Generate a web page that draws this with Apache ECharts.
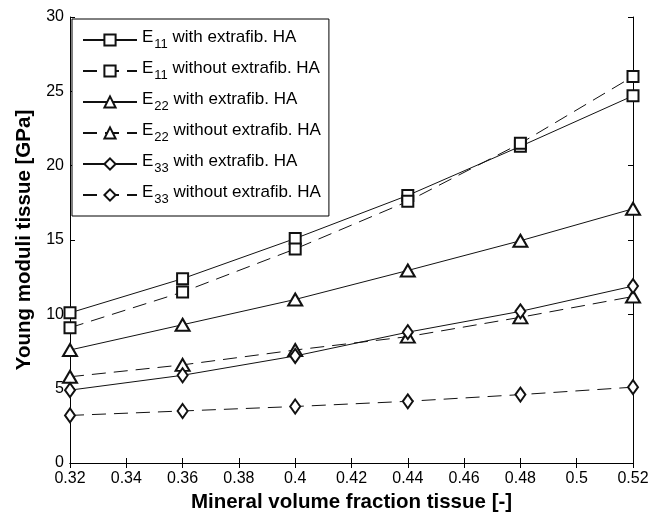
<!DOCTYPE html>
<html>
<head>
<meta charset="utf-8">
<script src="https://cdn.jsdelivr.net/npm/echarts@6/dist/echarts.min.js"></script>
<style>
  html, body { margin: 0; padding: 0; background: #fff; }
  #chart { width: 664px; height: 518px; }
</style>
</head>
<body>
<div id="chart"></div>
<script>
// mineral volume fraction (x)
var fractions = [0.32, 0.36, 0.40, 0.44, 0.48, 0.52];

// Young moduli [GPa]
var e11With = [10.1, 12.4, 15.1, 18.0, 21.3, 24.7];
var e11Without = [9.1, 11.5, 14.4, 17.6, 21.5, 26.0];
var e22With = [7.6, 9.3, 11.0, 12.95, 14.95, 17.1];
var e22Without = [5.8, 6.6, 7.6, 8.5, 9.8, 11.2];
var e33With = [4.9, 5.9, 7.2, 8.8, 10.2, 11.9];
var e33Without = [3.2, 3.5, 3.8, 4.15, 4.6, 5.1];

var seriesNames = [
	'E11 with extrafib. HA',
	'E11 without extrafib. HA',
	'E22 with extrafib. HA',
	'E22 without extrafib. HA',
	'E33 with extrafib. HA',
	'E33 without extrafib. HA'
];

var myChart = echarts.init(document.getElementById('chart'));

function pairs(ys) {
	var out = [];
	for (var i = 0; i < fractions.length; i++) {
		out.push([fractions[i], ys[i]]);
	}
	return out;
}

function makeSeries(name, ys, symbol, size, dashed) {
	return {
		name : name,
		type : 'line',
		data : pairs(ys),
		symbol : symbol,
		symbolSize : size,
		showAllSymbol : true,
		itemStyle : {
			color : '#111',
			borderWidth : 1
		},
		lineStyle : {
			color : '#111',
			width : 1,
			type : dashed ? [14, 8] : 'solid'
		},
		emphasis : { disabled : true },
		animation : false
	};
}

var fontFamily = '"Liberation Sans", Arial, sans-serif';

var option = {
	backgroundColor : '#fff',
	textStyle : { fontFamily : fontFamily },
	grid : {
		left : 70,
		right : 31,
		top : 17,
		bottom : 54
	},
	legend : {
		orient : 'vertical',
		left : 72,
		top : 19,
		padding : [10, 8, 10, 10],
		itemWidth : 54,
		itemHeight : 14,
		itemGap : 9,
		backgroundColor : '#fff',
		borderColor : '#000',
		borderWidth : 1,
		borderRadius : 0,
		data : seriesNames,
		formatter : function(name) {
			var sub = name.substring(1, 3);
			var rest = name.substring(3);
			return '{n|E}{s|' + sub + '}{n|' + rest + '}';
		},
		textStyle : {
			color : '#000',
			fontSize : 17,
			rich : {
				n : { fontSize : 17, color : '#000', lineHeight : 22, verticalAlign : 'top' },
				s : { fontSize : 13, color : '#000', lineHeight : 22, padding : [9, 0, 0, 1], verticalAlign : 'top' }
			}
		}
	},
	xAxis : [ {
		type : 'value',
		min : 0.32,
		max : 0.52,
		interval : 0.02,
		name : 'Mineral volume fraction tissue [-]',
		nameLocation : 'middle',
		nameGap : 29,
		nameTextStyle : { fontSize : 20.5, fontWeight : 'bold', color : '#000' },
		axisLine : { lineStyle : { color : '#000', width : 1 } },
		axisTick : { inside : true, length : 5, lineStyle : { color : '#000' } },
		axisLabel : {
			color : '#000',
			fontSize : 16,
			margin : 8,
			formatter : function(v) { return String(parseFloat(v.toFixed(2))); }
		},
		splitLine : { show : false }
	}, {
		type : 'value',
		position : 'top',
		min : 0.32,
		max : 0.52,
		interval : 0.02,
		axisLine : { lineStyle : { color : '#000', width : 1 } },
		axisTick : { inside : true, length : 5, lineStyle : { color : '#000' } },
		axisLabel : { show : false },
		splitLine : { show : false }
	} ],
	yAxis : [ {
		type : 'value',
		min : 0,
		max : 30,
		interval : 5,
		name : 'Young moduli tissue [GPa]',
		nameLocation : 'middle',
		nameGap : 31,
		nameTextStyle : { fontSize : 20.5, fontWeight : 'bold', color : '#000' },
		axisLine : { show : true, lineStyle : { color : '#000', width : 1 } },
		axisTick : { show : true, inside : true, length : 5, lineStyle : { color : '#000' } },
		axisLabel : { color : '#000', fontSize : 16, margin : 6 },
		splitLine : { show : false }
	}, {
		type : 'value',
		position : 'right',
		min : 0,
		max : 30,
		interval : 5,
		axisLine : { show : true, lineStyle : { color : '#000', width : 1 } },
		axisTick : { show : true, inside : true, length : 5, lineStyle : { color : '#000' } },
		axisLabel : { show : false },
		splitLine : { show : false }
	} ],
	series : [
		makeSeries(seriesNames[0], e11With, 'emptyRect', 11, false),
		makeSeries(seriesNames[1], e11Without, 'emptyRect', 11, true),
		makeSeries(seriesNames[2], e22With, 'emptyTriangle', [14, 12], false),
		makeSeries(seriesNames[3], e22Without, 'emptyTriangle', [14, 12], true),
		makeSeries(seriesNames[4], e33With, 'emptyDiamond', [10, 14], false),
		makeSeries(seriesNames[5], e33Without, 'emptyDiamond', [10, 14], true)
	]
};

myChart.setOption(option);
</script>
</body>
</html>
